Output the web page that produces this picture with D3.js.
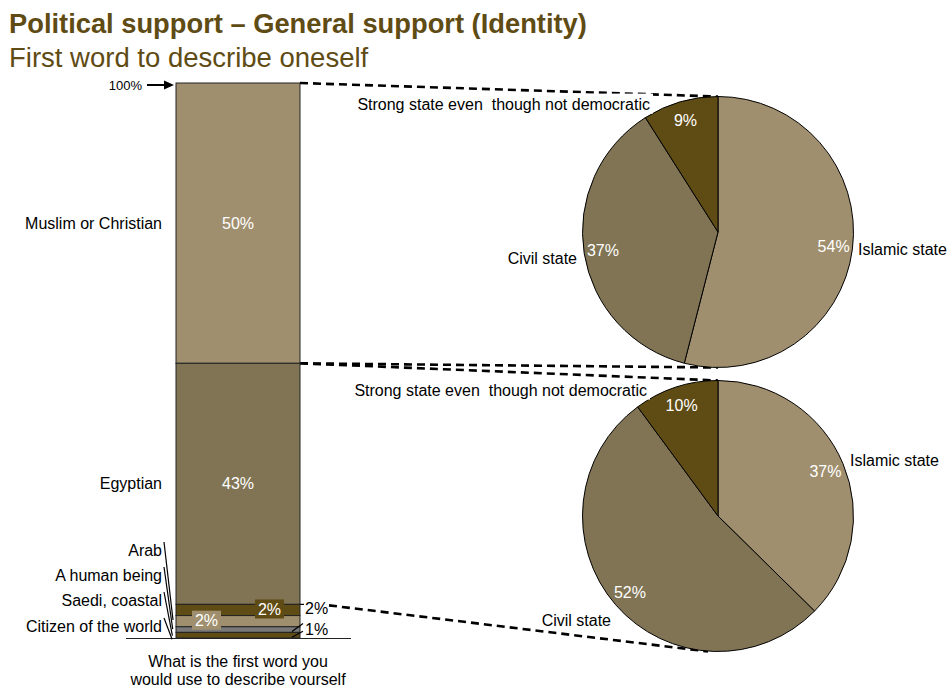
<!DOCTYPE html>
<html>
<head>
<meta charset="utf-8">
<script src="https://cdn.jsdelivr.net/npm/d3@7"></script>
<style>
  html, body { margin: 0; padding: 0; background: #fff; }
  svg { display: block; font-family: "Liberation Sans", Arial, sans-serif; }
  svg text { white-space: pre; }
</style>
</head>
<body>
<svg id="chart" width="952" height="685"></svg>
<script>
// Stacked identity bar (top to bottom as drawn)
const categories = ["Muslim or Christian", "Egyptian", "Arab", "A human being", "Saedi, coastal", "Citizen of the world"];
const shares = [50, 43, 2, 2, 1, 1];
const barColors = ["#a08f6e", "#807454", "#5f4b14", "#a08f6e", "#797979", "#5f4b14"];

// Preferred form of state, by identity group
const stateLabels = ["Islamic state", "Civil state", "Strong state even  though not democratic"];
const stateColors = ["#a08f6e", "#807454", "#5f4b14"];
const religiousState = [54, 37, 9];   // "Muslim or Christian"
const egyptianState = [37, 52, 10];   // "Egyptian"

const svg = d3.select("#chart");
const titleColor = "#5f4b14";
const fs = 16;

// Titles
svg.append("text").attr("x", 9).attr("y", 33)
  .attr("font-size", 27.3).attr("font-weight", "bold").attr("fill", titleColor)
  .text("Political support – General support (Identity)");
svg.append("text").attr("x", 9).attr("y", 67)
  .attr("font-size", 27.5).attr("fill", titleColor)
  .text("First word to describe oneself");

// Bar scales
const total = d3.sum(shares);
const y = d3.scaleLinear().domain([0, total]).range([638, 83]);
const barX0 = 176, barX1 = 300;

// cumulative from the bottom of the stack
const bottomUp = categories.map((c, i) => i).reverse();
const segs = [];
let acc = 0;
bottomUp.forEach(i => {
  segs[i] = { name: categories[i], value: shares[i], y0: acc, y1: acc + shares[i], color: barColors[i] };
  acc += shares[i];
});

const dash = "8,5";

// Connector lines between bar and pies (drawn beneath the pies)
const pieR = 135.5;
const pieTop = { cx: 718, cy: 232 };
const pieBot = { cx: 718, cy: 516 };
const conn = svg.append("g").attr("fill", "none").attr("stroke", "#000")
  .attr("stroke-width", 2.6).attr("stroke-dasharray", dash);
const segEgypt = segs[1], segMuslim = segs[0];
conn.append("line").attr("x1", barX1).attr("y1", y(segMuslim.y1))
  .attr("x2", pieTop.cx).attr("y2", pieTop.cy - pieR);
conn.append("line").attr("x1", barX1).attr("y1", y(segMuslim.y0))
  .attr("x2", pieTop.cx).attr("y2", pieTop.cy + pieR);
conn.append("line").attr("x1", barX1).attr("y1", y(segEgypt.y1))
  .attr("x2", pieBot.cx).attr("y2", pieBot.cy - pieR);
conn.append("line").attr("x1", 329).attr("y1", y(segEgypt.y0) + 1)
  .attr("x2", pieBot.cx - 10).attr("y2", pieBot.cy + pieR);

// Bar segments
svg.append("g").selectAll("rect").data(segs).join("rect")
  .attr("x", barX0).attr("width", barX1 - barX0)
  .attr("y", d => y(d.y1)).attr("height", d => y(d.y0) - y(d.y1))
  .attr("fill", d => d.color).attr("stroke", "#222").attr("stroke-width", 1);

// baseline
svg.append("line").attr("x1", 126).attr("x2", 351).attr("y1", 638.5).attr("y2", 638.5)
  .attr("stroke", "#222").attr("stroke-width", 1);

// 100% marker
svg.append("text").attr("x", 142).attr("y", 89.5).attr("text-anchor", "end")
  .attr("font-size", 13).text("100%");
svg.append("line").attr("x1", 147).attr("x2", 166).attr("y1", 85).attr("y2", 85)
  .attr("stroke", "#000").attr("stroke-width", 2);
svg.append("path").attr("d", "M174,85 L164,80.5 L164,89.5 Z").attr("fill", "#000");

// Big segment value labels
[0, 1].forEach(i => {
  const s = segs[i];
  svg.append("text").attr("x", (barX0 + barX1) / 2).attr("y", (y(s.y0) + y(s.y1)) / 2)
    .attr("dy", "0.35em").attr("text-anchor", "middle").attr("font-size", fs)
    .attr("fill", "#fff").text(s.value + "%");
});

// Small segment value labels in boxes
const boxed = [{ i: 2, cx: 269.5 }, { i: 3, cx: 206.5 }];
boxed.forEach(b => {
  const s = segs[b.i];
  const cy = (y(s.y0) + y(s.y1)) / 2 - 1;
  svg.append("rect").attr("x", b.cx - 14.5).attr("y", cy - 9.5).attr("width", 29).attr("height", 19)
    .attr("fill", s.color);
  svg.append("text").attr("x", b.cx).attr("y", cy).attr("dy", "0.36em")
    .attr("text-anchor", "middle").attr("font-size", fs).attr("fill", "#fff")
    .text(s.value + "%");
});

// Right-hand labels for the smallest segments
const yArabTop = y(segs[2].y1);
svg.append("line").attr("x1", barX1).attr("x2", 304).attr("y1", yArabTop).attr("y2", yArabTop)
  .attr("stroke", "#000").attr("stroke-width", 1.2);
svg.append("text").attr("x", 305).attr("y", 614).attr("font-size", fs).text(segs[3].value + "%");
svg.append("text").attr("x", 305).attr("y", 635).attr("font-size", fs).text(segs[4].value + "%");
[4, 5].forEach((i, k) => {
  const s = segs[i];
  const cy = (y(s.y0) + y(s.y1)) / 2;
  svg.append("line").attr("x1", 292).attr("y1", cy + 2).attr("x2", 303).attr("y2", cy - 6 + k * 2)
    .attr("stroke", "#000").attr("stroke-width", 1.2);
});

// Category labels on the left
svg.append("text").attr("x", 162).attr("y", (y(segs[0].y0) + y(segs[0].y1)) / 2)
  .attr("dy", "0.35em").attr("text-anchor", "end").attr("font-size", fs).text(categories[0]);
svg.append("text").attr("x", 162).attr("y", (y(segs[1].y0) + y(segs[1].y1)) / 2)
  .attr("dy", "0.35em").attr("text-anchor", "end").attr("font-size", fs).text(categories[1]);
const smallLabelY = [550, 575, 600, 626];
[2, 3, 4, 5].forEach((i, k) => {
  const s = segs[i];
  const ly = smallLabelY[k];
  svg.append("text").attr("x", 162).attr("y", ly).attr("dy", "0.35em")
    .attr("text-anchor", "end").attr("font-size", fs).text(s.name);
  svg.append("line").attr("x1", 164).attr("y1", ly - 8)
    .attr("x2", 173 - k * 0.3).attr("y2", (y(s.y0) + y(s.y1)) / 2 + 4 + (3 - k) * 2)
    .attr("stroke", "#000").attr("stroke-width", 1.2);
});

// Axis caption
const cap = svg.append("text").attr("text-anchor", "middle").attr("font-size", fs);
cap.append("tspan").attr("x", 238).attr("y", 667).text("What is the first word you");
cap.append("tspan").attr("x", 238).attr("y", 685).text("would use to describe yourself");

// Pies
const pie = d3.pie().sort(null).value(d => d);
const arc = d3.arc().innerRadius(0).outerRadius(pieR);
const labelArc = d3.arc().innerRadius(pieR * 0.86).outerRadius(pieR * 0.86);

function drawPie(center, values, catPos) {
  const g = svg.append("g").attr("transform", `translate(${center.cx},${center.cy})`);
  const arcs = pie(values);
  g.selectAll("path").data(arcs).join("path")
    .attr("d", arc).attr("fill", (d, i) => stateColors[i])
    .attr("stroke", "#000").attr("stroke-width", 1);
  g.selectAll("text.v").data(arcs).join("text").attr("class", "v")
    .attr("transform", d => `translate(${labelArc.centroid(d)})`)
    .attr("dy", "0.35em").attr("text-anchor", "middle")
    .attr("font-size", fs).attr("fill", "#fff").text(d => d.data + "%");
  // category names
  catPos.forEach((p, i) => {
    const t = svg.append("text").attr("x", p.x).attr("y", p.y).attr("dy", "0.35em")
      .attr("text-anchor", p.anchor).attr("font-size", fs).text(stateLabels[i]);
    if (i === 2) {
      const bb = t.node().getBBox();
      svg.insert("rect", () => t.node()).attr("x", bb.x - 3).attr("y", bb.y - 2)
        .attr("width", bb.width + 6).attr("height", bb.height + 3).attr("fill", "#fff");
    }
  });
}

drawPie(pieTop, religiousState, [
  { x: 858, y: 249, anchor: "start" },
  { x: 577, y: 258, anchor: "end" },
  { x: 650, y: 104, anchor: "end" }
]);
drawPie(pieBot, egyptianState, [
  { x: 850, y: 460, anchor: "start" },
  { x: 611, y: 620, anchor: "end" },
  { x: 647, y: 390, anchor: "end" }
]);
</script>
</body>
</html>
